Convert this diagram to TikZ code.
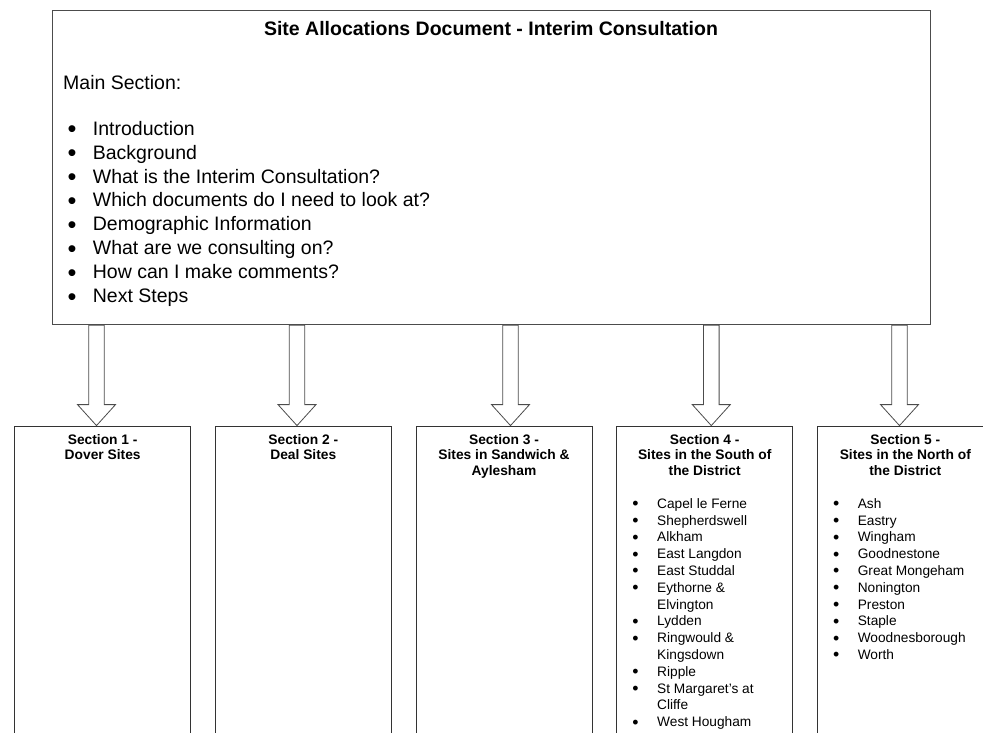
\documentclass[tikz,border=0pt]{standalone}
\usepackage{graphicx}
\usepackage{fontspec}
\setmainfont{Liberation Sans}
\usetikzlibrary{calc}
\newcommand{\mbul}{\makebox[25.4pt][l]{\raisebox{-2.6pt}{\scalebox{1.3}{•}}}}
\newcommand{\sbul}{\makebox[24.8pt][l]{\raisebox{-1.3pt}{\scalebox{1.3}{•}}}}
\begin{document}
\begin{tikzpicture}[x=1pt,y=-1pt,
  mainbox/.style={draw=black!70,line width=0.8pt,fill=white,minimum width=878pt,minimum height=314.7pt,inner sep=0},
  secbox/.style={draw=black!80,line width=0.8pt,fill=white,minimum width=176pt,minimum height=340pt,anchor=north,inner sep=0},
  bigtitle/.style={font=\bfseries\fontsize{19.5}{23.9}\selectfont,anchor=base,inner sep=0},
  mitem/.style={font=\fontsize{19.5}{23.9}\selectfont,anchor=base west,inner sep=0},
  sechead/.style={font=\bfseries\fontsize{13.8}{15.9}\selectfont,align=center,anchor=base,inner sep=0},
  sitem/.style={font=\fontsize{13.7}{16.8}\selectfont,anchor=base west,inner sep=0},
  blockarrow/.style={draw=black!70,fill=white,line width=0.8pt,line join=miter,
    to path={let \p1=(\tikztostart), \p2=(\tikztotarget) in
      (\x1-7.8pt,\y1) -- (\x1-7.8pt,\y2+21pt) -- (\x1-19pt,\y2+21pt) -- (\x2,\y2)
      -- (\x1+19pt,\y2+21pt) -- (\x1+7.8pt,\y2+21pt) -- (\x1+7.8pt,\y1) -- cycle}}]
  \useasboundingbox (0,0) rectangle (983,733);
  \clip (0,0) rectangle (983,733);

  %main box
  \node[mainbox] (main) at (491,167.35) {};
  \node[bigtitle] (title) at (491,36) {Site Allocations Document - Interim Consultation};
  \node[mitem] (mainsec) at (63,89.3) {Main Section:};
  \node[mitem] (m1) at (67.3,135.3) {\mbul Introduction};
  \node[mitem] (m2) at (67.3,159.2) {\mbul Background};
  \node[mitem] (m3) at (67.3,183.1) {\mbul What is the Interim Consultation?};
  \node[mitem] (m4) at (67.3,207.0) {\mbul Which documents do I need to look at?};
  \node[mitem] (m5) at (67.3,230.9) {\mbul Demographic Information};
  \node[mitem] (m6) at (67.3,254.8) {\mbul What are we consulting on?};
  \node[mitem] (m7) at (67.3,278.7) {\mbul How can I make comments?};
  \node[mitem] (m8) at (67.3,302.6) {\mbul Next Steps};

  %sections
  \node[secbox] (s1) at (102.7,425.6) {};
  \node[secbox] (s2) at (303.3,425.6) {};
  \node[secbox] (s3) at (504.0,425.6) {};
  \node[secbox] (s4) at (704.7,425.6) {};
  \node[secbox] (s5) at (905.3,425.6) {};

  %headings
  \node[sechead] (h1) at (102.7,459.9) {Section 1 -\\Dover Sites};
  \node[sechead] (h2) at (303.3,459.9) {Section 2 -\\Deal Sites};
  \node[sechead] (h3) at (504.0,475.8) {Section 3 -\\Sites in Sandwich \&\\Aylesham};
  \node[sechead] (h4) at (704.7,475.8) {Section 4 -\\Sites in the South of\\the District};
  \node[sechead] (h5) at (905.3,475.8) {Section 5 -\\Sites in the North of\\the District};

  %south sites
  \node[sitem] (s4a) at (632.2,508.3) {\sbul Capel le Ferne};
  \node[sitem] (s4b) at (632.2,525.1) {\sbul Shepherdswell};
  \node[sitem] (s4c) at (632.2,541.9) {\sbul Alkham};
  \node[sitem] (s4d) at (632.2,558.7) {\sbul East Langdon};
  \node[sitem] (s4e) at (632.2,575.5) {\sbul East Studdal};
  \node[sitem] (s4f) at (632.2,592.3) {\sbul Eythorne \&};
  \node[sitem] (s4g) at (632.2,609.1) {\hspace{24.8pt}Elvington};
  \node[sitem] (s4h) at (632.2,625.9) {\sbul Lydden};
  \node[sitem] (s4i) at (632.2,642.7) {\sbul Ringwould \&};
  \node[sitem] (s4j) at (632.2,659.5) {\hspace{24.8pt}Kingsdown};
  \node[sitem] (s4k) at (632.2,676.3) {\sbul Ripple};
  \node[sitem] (s4l) at (632.2,693.1) {\sbul St Margaret’s at};
  \node[sitem] (s4m) at (632.2,709.9) {\hspace{24.8pt}Cliffe};
  \node[sitem] (s4n) at (632.2,726.7) {\sbul West Hougham};

  %north sites
  \node[sitem] (s5a) at (832.8,508.3) {\sbul Ash};
  \node[sitem] (s5b) at (832.8,525.1) {\sbul Eastry};
  \node[sitem] (s5c) at (832.8,541.9) {\sbul Wingham};
  \node[sitem] (s5d) at (832.8,558.7) {\sbul Goodnestone};
  \node[sitem] (s5e) at (832.8,575.5) {\sbul Great Mongeham};
  \node[sitem] (s5f) at (832.8,592.3) {\sbul Nonington};
  \node[sitem] (s5g) at (832.8,609.1) {\sbul Preston};
  \node[sitem] (s5h) at (832.8,625.9) {\sbul Staple};
  \node[sitem] (s5i) at (832.8,642.7) {\sbul Woodnesborough};
  \node[sitem] (s5j) at (832.8,659.5) {\sbul Worth};

  %arrows
  \coordinate (a1) at (96.5,0);
  \coordinate (a2) at (297.0,0);
  \coordinate (a3) at (510.5,0);
  \coordinate (a4) at (711.3,0);
  \coordinate (a5) at (899.5,0);
  \draw[blockarrow] (main.south -| a1) to (s1.north -| a1);
  \draw[blockarrow] (main.south -| a2) to (s2.north -| a2);
  \draw[blockarrow] (main.south -| a3) to (s3.north -| a3);
  \draw[blockarrow] (main.south -| a4) to (s4.north -| a4);
  \draw[blockarrow] (main.south -| a5) to (s5.north -| a5);
\end{tikzpicture}
\end{document}
